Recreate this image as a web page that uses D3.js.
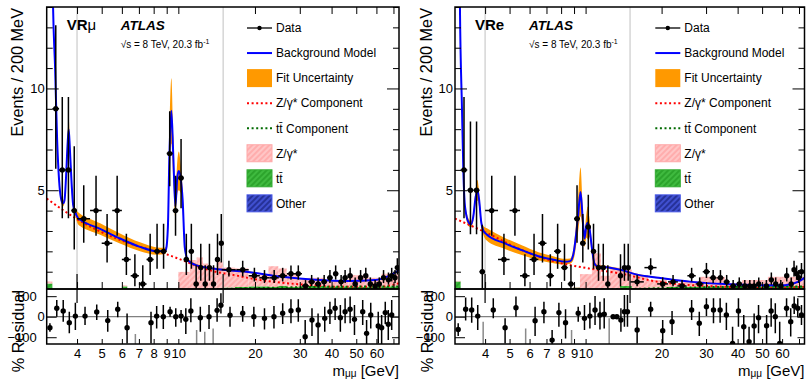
<!DOCTYPE html>
<html>
<head>
<meta charset="utf-8">
<script src="https://cdn.jsdelivr.net/npm/d3@7"></script>
<style>
  body { margin: 0; background: #fff; }
  svg text { font-family: "Liberation Sans", Arial, Helvetica, sans-serif; }
</style>
</head>
<body>
<svg id="chart" width="809" height="379"></svg>
<script>
// ---------------- axes / labels ----------------
const xDomain = [3.04, 73.6];
const yDomain = [0.15, 14];
const resDomain = [-133, 135];
const xTicks = [4, 5, 6, 7, 8, 9, 10, 20, 30, 40, 50, 60, 70];
const xTickLabels = [4, 5, 6, 7, 8, 9, 10, 20, 30, 40, 50, 60];
const yMinorTicks = [1, 2, 3, 4, 6, 7, 8, 9, 11, 12, 13, 14];
const yMajorTicks = [5, 10];
const resTicks = [100, 0, -100];
const resTickLabels = ["100", "0", "\u2212100"];
const signalEdges = [4, 15];
const legendLabels = ["Data", "Background Model", "Fit Uncertainty", "Z/\u03b3* Component",
                      "tt\u0304 Component", "Z/\u03b3*", "tt\u0304", "Other"];

// ---------------- VR mu ----------------
const muDataX = [3.3, 3.5, 3.7, 3.9,
  4.25, 4.75, 5.25, 5.75, 6.25, 6.75, 7.25, 7.75, 8.25, 8.75, 9.25, 9.75, 10.25, 10.75, 11.25, 11.75, 12.25, 12.75, 13.25, 13.75, 14.25, 14.75,
  15.8, 17.9, 19.9, 21.8, 23.8, 25.7, 27.7, 29.6, 31.6, 33.4, 35.4, 37.4, 39.4, 41.5, 43.6, 45.2, 47.3, 49.5, 52, 54.5, 56.8, 59.3, 61.6, 64, 66.9, 68.9, 71, 72.5];
const muDataY = [9, 6, 6, 4,
  3.6, 4.0, 2.4, 4.0, 1.6, 0.8, 0.4, 1.6, 2.0, 2.0, 6.8, 4.0, 5.6, 1.6, 2.0, 0.4, 1.2, 0.4, 1.2, 0.4, 1.6, 2.4,
  1.1, 1.1, 0.8, 0.7, 0.7, 0.8, 0.9, 0.9, 0.3, 0.5, 0.4, 0.5, 0.7, 0.9, 0.5, 0.7, 0.8, 0.4, 0.7, 0.8, 0.4, 0.3, 0.4, 0.7, 0.6, 0.8, 0.7, 1.2];
const muDataLo = [6.06, 3.62, 3.62, 2.09,
  2.42, 2.76, 1.45, 2.76, 0.84, 0.28, 0.07, 0.84, 1.14, 1.14, 5.2, 2.76, 4.12, 0.84, 1.14, 0.07, 0.55, 0.07, 0.55, 0.07, 0.84, 1.45,
  0.77, 0.77, 0.52, 0.44, 0.44, 0.52, 0.61, 0.61, 0.14, 0.28, 0.21, 0.28, 0.44, 0.61, 0.28, 0.44, 0.52, 0.21, 0.44, 0.52, 0.21, 0.14, 0.21, 0.44, 0.36, 0.52, 0.44, 0.86];
const muDataHi = [13.1, 9.58, 9.58, 7.16,
  5.24, 5.71, 3.83, 5.71, 2.86, 1.86, 1.32, 2.86, 3.35, 3.35, 8.88, 5.71, 7.52, 2.86, 3.35, 1.32, 2.37, 1.32, 2.37, 1.32, 2.86, 3.83,
  1.54, 1.54, 1.19, 1.08, 1.08, 1.19, 1.31, 1.31, 0.59, 0.84, 0.72, 0.84, 1.08, 1.31, 0.84, 1.08, 1.19, 0.72, 1.08, 1.19, 0.72, 0.59, 0.72, 1.08, 0.96, 1.19, 1.08, 1.66];
const muDataW = [0.1, 0.1, 0.1, 0.1,
  0.25, 0.25, 0.25, 0.25, 0.25, 0.25, 0.25, 0.25, 0.25, 0.25, 0.25, 0.25, 0.25, 0.25, 0.25, 0.25, 0.25, 0.25, 0.25, 0.25, 0.25, 0.25,
  1, 1, 1, 1, 1, 1, 1, 1, 1, 1, 1, 1, 1, 1, 1, 1, 1, 1, 1, 1, 1, 1, 1, 1, 1, 1, 1, 1];

const muModelX = [3.17, 3.22, 3.28, 3.34, 3.40, 3.46, 3.52, 3.57, 3.62, 3.67, 3.71, 3.75, 3.81, 3.86, 3.93, 4.04, 4.11, 4.93, 5.9, 7.07, 8.22, 8.87,
  8.95, 9.1, 9.22, 9.39, 9.56, 9.73, 9.91, 10.04, 10.22, 10.4, 10.6, 10.9, 11.73, 13.65, 15.4, 18.8, 25.5, 34.5, 46.6, 59.3, 66.9, 73.6];
const muModelY = [20, 14, 11, 7.5, 5.5, 4.6, 4.35, 4.5, 5.6, 7.2, 8.0, 7.0, 5.3, 4.3, 3.95, 3.62, 3.55, 3.1, 2.63, 2.22, 2.01, 2.02,
  2.1, 3.2, 6.6, 8.9, 6.6, 4.2, 5.65, 5.95, 5.57, 4.5, 2.2, 1.57, 1.32, 1.16, 1.08, 0.98, 0.75, 0.6, 0.54, 0.59, 0.78, 1.08];
const muBandHW = [0.4, 0.3, 0.3, 0.25, 0.2, 0.15, 0.15, 0.15, 0.3, 0.45, 0.55, 0.45, 0.3, 0.2, 0.2, 0.3, 0.3, 0.28, 0.25, 0.22, 0.18, 0.15,
  0.14, 0.5, 1.0, 1.6, 1.0, 0.5, 0.8, 0.95, 0.7, 0.5, 0.2, 0.1, 0.07, 0.05, 0.05, 0.04, 0.03, 0.03, 0.03, 0.03, 0.04, 0.05];
const muZX = [3.04, 4.3, 5.5, 7.46, 9.0, 10.7, 12.2, 14.0, 16.0, 20.9, 30, 43.1, 62, 73.6];
const muZY = [4.59, 3.35, 2.71, 2.14, 1.85, 1.5, 1.22, 1.0, 0.87, 0.59, 0.38, 0.26, 0.26, 0.43];
const muTTX = [3.04, 8, 15, 25, 40, 60, 73.6];
const muTTY = [0.0, 0.05, 0.15, 0.22, 0.26, 0.27, 0.27];

const muHistEdges = [3.04, 3.2, 6.0, 6.3, 6.6, 10.0, 11.1, 11.8, 12.5, 13.1, 14.15, 14.95, 16.7, 18.85, 22.6, 24.7, 26.65, 29.6, 32.4, 37.6, 46.6, 55.8, 62.9, 73.6];
const muHistTT = [0.42, 0, 0.28, 0, 0, 0.1, 0.1, 0.12, 0.15, 0.15, 0.2, 0.22, 0.25, 0.28, 0.25, 0.3, 0.25, 0.28, 0.3, 0.28, 0.25, 0.3, 0.28];
const muHistZ = [0.10, 0, 0.05, 0, 0, 0.89, 1.47, 1.58, 1.25, 1.01, 1.29, 0.98, 0.91, 0.55, 1.02, 0.86, 0.67, 0.31, 0.4, 0.31, 0.58, 0.4, 0.62];

const muResX = [3.13, 3.33, 3.53, 3.73, 3.94, 4.3, 4.78, 5.28, 5.78, 6.29, 6.78, 7.29, 7.81, 8.22, 8.73, 9.28, 9.77, 10.25, 10.7, 11.2, 11.8, 12.2, 12.7, 13.2, 13.7, 14.2, 14.7,
  15.96, 17.9, 19.8, 21.8, 23.75, 25.7, 27.7, 29.6, 31.5, 33.5, 35.4, 37.6, 39.4, 41.3, 43.3, 45.2, 47.3, 49.2, 53, 54.9, 57, 61, 62.9, 65, 66.8, 68.9];
const muRes = [-54, 41, 28, -29, 3, 3, 23, -19, 36, -54, -250, -400, -29, 3, 0, 24, 0, 3, -13, 28, -300, -5, -300, 0, -300, 31, 56,
  7, 17, 0, -8, 0, 17, 29, 33, -98, -16, -40, -8, 24, 41, -5, 24, 36, -13, 24, -81, 8, -45, -54, 20, -37, 8];
const muResHi = [-32, 81, 81, 24, 68, 49, 60, 33, 73, 16, -84, -150, 24, 52, 57, 49, 41, 33, 41, 90, -65, 49, -73, 57, -57, 90, 114,
  49, 52, 49, 41, 52, 65, 85, 85, -16, 41, 16, 49, 73, 90, 57, 90, 98, 57, 81, -16, 68, 24, 8, 73, 33, 81];
const muResLo = [-73, 0, -24, -81, -65, -40, -16, -73, -3, -130, -500, -600, -130, -57, -60, 0, -49, -29, -84, -27, -500, -73, -500, -60, -500, -24, 16,
  -49, -24, -49, -62, -57, -36, -32, -24, -200, -94, -200, -73, -36, -16, -73, -32, -32, -89, -40, -200, -57, -130, -200, -36, -114, -65];

// ---------------- VR e ----------------
const elDataX = [3.3, 3.5, 3.7, 3.9,
  4.25, 4.75, 5.25, 5.75, 6.25, 6.75, 7.25, 7.75, 8.25, 8.75, 9.25, 9.75, 10.25, 10.75, 11.25, 11.75, 12.25, 13.75, 14.25, 14.75,
  16, 18.1, 20.2, 22.2, 24.1, 26.3, 28.3, 30.1, 32, 34.2, 36.2, 38.4, 40.6, 42.7, 44.7, 46.5, 48.5, 52, 54.4, 56.6, 59.3, 62.6, 65.2, 66.9, 68.5, 69.9, 71.6];
const elDataY = [6, 5, 5, 1,
  4.0, 1.6, 4.0, 0.8, 1.6, 2.4, 0.8, 2.0, 1.2, 0.4, 3.6, 2.4, 3.2, 2.0, 1.2, 1.2, 0.4, 0.8, 1.2, 1.2,
  0.5, 1.2, 0.4, 0.5, 0.3, 0.8, 0.4, 1.0, 0.7, 0.7, 0.5, 0.3, 0.4, 0.3, 0.3, 0.3, 0.4, 0.3, 0.6, 0.4, 0.3, 0.8, 0.4, 1.1, 0.9, 0.7, 1.0];
const elDataLo = [3.62, 2.84, 2.84, 0.17,
  2.76, 0.84, 2.76, 0.28, 0.84, 1.45, 0.28, 1.14, 0.55, 0.07, 2.42, 1.45, 2.09, 1.14, 0.55, 0.55, 0.07, 0.28, 0.55, 0.55,
  0.28, 0.86, 0.21, 0.28, 0.14, 0.52, 0.21, 0.69, 0.44, 0.44, 0.28, 0.14, 0.21, 0.14, 0.14, 0.14, 0.21, 0.14, 0.36, 0.21, 0.14, 0.52, 0.21, 0.77, 0.61, 0.44, 0.69];
const elDataHi = [9.58, 8.38, 8.38, 3.30,
  5.71, 2.86, 5.71, 1.86, 2.86, 3.83, 1.86, 3.35, 2.37, 1.32, 5.24, 3.83, 4.78, 3.35, 2.37, 2.37, 1.32, 1.86, 2.37, 2.37,
  0.84, 1.66, 0.72, 0.84, 0.59, 1.19, 0.72, 1.43, 1.08, 1.08, 0.84, 0.59, 0.72, 0.59, 0.59, 0.59, 0.72, 0.59, 0.96, 0.72, 0.59, 1.19, 0.72, 1.54, 1.31, 1.08, 1.43];
const elDataW = [0.1, 0.1, 0.1, 0.1,
  0.25, 0.25, 0.25, 0.25, 0.25, 0.25, 0.25, 0.25, 0.25, 0.25, 0.25, 0.25, 0.25, 0.25, 0.25, 0.25, 0.25, 0.25, 0.25, 0.25,
  1, 1, 1, 1, 1, 1, 1, 1, 1, 1, 1, 1, 1, 1, 1, 1, 1, 1, 1, 1, 1, 1, 1, 1, 1, 1, 1];

const elModelX = [3.15, 3.18, 3.24, 3.28, 3.33, 3.45, 3.52, 3.59, 3.67, 3.73, 3.79, 3.86, 3.93, 4.05, 4.79, 5.59, 6.51, 7.56, 8.29, 8.69,
  8.96, 9.33, 9.55, 9.73, 9.9, 10.08, 10.2, 10.34, 10.58, 10.84, 11.1, 12.35, 13.9, 15.7, 19.45, 26.35, 35.7, 48.3, 61.5, 69.3, 73.6];
const elModelY = [20, 14, 9, 6, 4.2, 3.4, 3.33, 3.69, 4.67, 5.0, 4.5, 3.45, 3.04, 2.84, 2.39, 2.06, 1.76, 1.57, 1.49, 1.52,
  1.9, 3.69, 4.92, 3.69, 2.63, 3.28, 3.4, 3.2, 2.22, 1.4, 1.27, 1.21, 1.08, 0.88, 0.7, 0.5, 0.39, 0.34, 0.34, 0.5, 0.7];
const elBandHW = [0.4, 0.3, 0.3, 0.25, 0.2, 0.18, 0.15, 0.2, 0.35, 0.5, 0.35, 0.2, 0.2, 0.3, 0.27, 0.24, 0.2, 0.17, 0.14, 0.13,
  0.3, 0.8, 1.2, 0.6, 0.4, 0.6, 0.8, 0.5, 0.3, 0.12, 0.08, 0.06, 0.05, 0.04, 0.03, 0.03, 0.03, 0.03, 0.03, 0.04, 0.05];
const elZX = [3.04, 4.1, 5.59, 7.56, 10.3, 13.9, 19.45, 26.35, 35.7, 48.3, 61.5, 73.6];
const elZY = [3.61, 2.88, 2.06, 1.49, 1.16, 0.9, 0.5, 0.34, 0.26, 0.21, 0.21, 0.26];
const elTTX = [3.04, 8, 15, 25, 40, 60, 73.6];
const elTTY = [0.0, 0.05, 0.15, 0.22, 0.26, 0.27, 0.27];

const elHistEdges = [3.04, 3.2, 8.9, 9.5, 10.59, 11.5, 12.48, 13.67, 15.25, 17.64, 20.98, 23.8, 28.3, 35.6, 41.6, 52.7, 59.8, 73.6];
const elHistTT = [0.52, 0, 0.22, 0.1, 0.12, 0.15, 0.15, 0.3, 0.2, 0.22, 0.25, 0.25, 0.28, 0.3, 0.28, 0.3, 0.3];
const elHistZ = [0.03, 0, 0.03, 0.78, 1.78, 0.65, 1.05, 0.8, 0.63, 0.37, 0.18, 0.25, 0.47, 0.13, 0.31, 0.45, 0.45];

const elResX = [3.13, 3.35, 3.54, 3.74, 3.93, 4.31, 4.8, 5.3, 5.79, 6.31, 6.84, 7.37, 7.84, 8.33, 8.8, 9.35, 9.9, 10.4, 10.9, 11.4, 11.85, 12.4, 12.85, 13.3, 13.8, 14.25, 14.65,
  16.0, 18.1, 20.2, 22.0, 26.3, 28.2, 30.1, 32.1, 34.1, 36.1, 38.2, 40.3, 42.3, 44.4, 46.5, 48.4, 52.1, 54.3, 56.4, 58.7, 62.5, 64.9, 67, 69.2, 71.6];
const elRes = [-62, 36, 33, 3, -300, 33, -54, 44, -300, -20, 24, -114, 20, -29, -300, 17, -8, 3, 33, 8, 12, -300, 0, 0, -16, 24, 24,
  -65, 36, -68, -24, 33, -32, 49, 33, 33, 8, -130, 28, -49, -122, -45, -5, -44, 28, 0, -130, 41, -24, 52, 41, 8];
const elResHi = [-32, 94, 94, 57, -24, 90, -8, 98, -57, 49, 73, -65, 68, 36, -65, 49, 57, 68, 101, 73, 90, -8, 0, 0, 41, 106, 106,
  0, 73, -16, 28, 81, 24, 90, 90, 90, 68, -49, 90, 8, -49, 16, 57, 8, 90, 65, -24, 90, 41, 98, 90, 57];
const elResLo = [-94, -19, -29, -65, -600, -8, -130, 0, -600, -94, -32, -200, -49, -106, -600, -24, -65, -57, -40, -62, -57, -600, 0, 0, -73, -49, -49,
  -130, 0, -200, -89, -16, -94, 3, -32, -29, -65, -200, -49, -200, -200, -200, -81, -200, -49, -81, -200, 0, -97, 13, -3, -40];

// ---------------- layout ----------------
const Y_TOP = 7, Y_MID = 289, Y_BOT = 344;
const panels = [
  { tag: "VR", tagSub: "\u03bc", x0: 46.7, x1: 399,
    dataX: muDataX, dataY: muDataY, dataLo: muDataLo, dataHi: muDataHi, dataW: muDataW,
    modelX: muModelX, modelY: muModelY, bandHW: muBandHW, zX: muZX, zY: muZY, ttX: muTTX, ttY: muTTY,
    histEdges: muHistEdges, histTT: muHistTT, histZ: muHistZ,
    resX: muResX, res: muRes, resHi: muResHi, resLo: muResLo },
  { tag: "VRe", tagSub: "", x0: 455, x1: 804.5,
    dataX: elDataX, dataY: elDataY, dataLo: elDataLo, dataHi: elDataHi, dataW: elDataW,
    modelX: elModelX, modelY: elModelY, bandHW: elBandHW, zX: elZX, zY: elZY, ttX: elTTX, ttY: elTTY,
    histEdges: elHistEdges, histTT: elHistTT, histZ: elHistZ,
    resX: elResX, res: elRes, resHi: elResHi, resLo: elResLo }
];

const svg = d3.select("#chart");
const defs = svg.append("defs");

function hatch(id, bg, fg) {
  const p = defs.append("pattern").attr("id", id)
    .attr("patternUnits", "userSpaceOnUse").attr("width", 4).attr("height", 4)
    .attr("patternTransform", "rotate(45)");
  p.append("rect").attr("width", 4).attr("height", 4).attr("fill", bg);
  p.append("line").attr("x1", 1).attr("y1", 0).attr("x2", 1).attr("y2", 4)
    .attr("stroke", fg).attr("stroke-width", 1.4);
}
hatch("hZ", "#ffc6c6", "#ffa3a3");
hatch("hT", "#3fba3f", "#249a24");
hatch("hO", "#4050d0", "#1a2480");

const ORANGE = "#ff9900", BLUE = "#0000ff", RED = "#ff0000", DKGREEN = "#006a00";

panels.forEach((p, idx) => {
  const x = d3.scaleLog().domain(xDomain).range([p.x0, p.x1]);
  const y = d3.scaleLinear().domain(yDomain).range([Y_MID, Y_TOP]);
  const r = d3.scaleLinear().domain(resDomain).range([Y_BOT, Y_MID]);
  const W = p.x1 - p.x0;

  defs.append("clipPath").attr("id", "cm" + idx).append("rect")
    .attr("x", p.x0).attr("y", Y_TOP).attr("width", W).attr("height", Y_MID - Y_TOP);
  defs.append("clipPath").attr("id", "cr" + idx).append("rect")
    .attr("x", p.x0).attr("y", Y_MID).attr("width", W).attr("height", Y_BOT - Y_MID);

  const g = svg.append("g");
  const m = g.append("g").attr("clip-path", `url(#cm${idx})`);

  // boundary lines of the validation regions
  m.selectAll("line.edge").data(signalEdges).join("line").attr("class", "edge")
    .attr("x1", d => x(d)).attr("x2", d => x(d)).attr("y1", Y_TOP).attr("y2", Y_MID)
    .attr("stroke", "#cfcfcf").attr("stroke-width", 1.3);

  // stacked histograms: ttbar then Z/gamma*
  const bins = d3.range(p.histEdges.length - 1).map(i => ({
    lo: p.histEdges[i], hi: p.histEdges[i + 1], t: p.histTT[i], z: p.histZ[i] }));
  m.selectAll("rect.tt").data(bins).join("rect").attr("class", "tt")
    .attr("x", d => x(d.lo)).attr("width", d => x(d.hi) - x(d.lo))
    .attr("y", d => y(d.t)).attr("height", d => Math.max(0, y(0) - y(d.t)))
    .attr("fill", "url(#hT)");
  m.selectAll("rect.zg").data(bins).join("rect").attr("class", "zg")
    .attr("x", d => x(d.lo)).attr("width", d => x(d.hi) - x(d.lo))
    .attr("y", d => y(d.t + d.z)).attr("height", d => Math.max(0, y(d.t) - y(d.t + d.z)))
    .attr("fill", "url(#hZ)");

  // fit uncertainty band + model
  const model = p.modelX.map((v, i) => ({ x: v, y: p.modelY[i], h: p.bandHW[i] }));
  m.append("path").datum(model)
    .attr("d", d3.area().x(d => x(d.x)).y0(d => y(d.y - d.h)).y1(d => y(d.y + d.h)).curve(d3.curveMonotoneX))
    .attr("fill", ORANGE);
  const zc = p.zX.map((v, i) => ({ x: v, y: p.zY[i] }));
  m.append("path").datum(zc)
    .attr("d", d3.line().x(d => x(d.x)).y(d => y(d.y)).curve(d3.curveMonotoneX))
    .attr("fill", "none").attr("stroke", RED).attr("stroke-width", 2).attr("stroke-dasharray", "2,2.6");
  const tc = p.ttX.map((v, i) => ({ x: v, y: p.ttY[i] }));
  m.append("path").datum(tc)
    .attr("d", d3.line().x(d => x(d.x)).y(d => y(d.y)).curve(d3.curveMonotoneX))
    .attr("fill", "none").attr("stroke", DKGREEN).attr("stroke-width", 2).attr("stroke-dasharray", "2,2.6");
  m.append("path").datum(model)
    .attr("d", d3.line().x(d => x(d.x)).y(d => y(d.y)).curve(d3.curveMonotoneX))
    .attr("fill", "none").attr("stroke", BLUE).attr("stroke-width", 2);

  // data
  const pts = p.dataX.map((v, i) => ({ x: v, y: p.dataY[i], lo: p.dataLo[i], hi: p.dataHi[i], w: p.dataW[i] }));
  const dp = m.append("g").attr("stroke", "#000").attr("stroke-width", 1.5);
  dp.selectAll("line.ev").data(pts).join("line").attr("class", "ev")
    .attr("x1", d => x(d.x)).attr("x2", d => x(d.x)).attr("y1", d => y(d.lo)).attr("y2", d => y(d.hi));
  dp.selectAll("line.eh").data(pts).join("line").attr("class", "eh")
    .attr("x1", d => x(d.x - d.w)).attr("x2", d => x(d.x + d.w)).attr("y1", d => y(d.y)).attr("y2", d => y(d.y));
  m.selectAll("circle.pt").data(pts).join("circle").attr("class", "pt")
    .attr("cx", d => x(d.x)).attr("cy", d => y(d.y)).attr("r", 2.7).attr("fill", "#000");

  // residual panel
  const rg = g.append("g").attr("clip-path", `url(#cr${idx})`);
  rg.append("line").attr("x1", p.x0).attr("x2", p.x1).attr("y1", r(0)).attr("y2", r(0))
    .attr("stroke", "#808080").attr("stroke-width", 1.2);
  const rp = p.resX.map((v, i) => ({ x: v, y: p.res[i], hi: p.resHi[i], lo: p.resLo[i] }));
  const inR = d => d.y >= resDomain[0] && d.y <= resDomain[1];
  rg.selectAll("line.rv").data(rp).join("line").attr("class", "rv")
    .attr("x1", d => x(d.x)).attr("x2", d => x(d.x)).attr("y1", d => r(d.lo)).attr("y2", d => r(d.hi))
    .attr("stroke", d => inR(d) ? "#000" : "#8a8a8a").attr("stroke-width", 1.5);
  rg.selectAll("circle.rpt").data(rp.filter(inR)).join("circle").attr("class", "rpt")
    .attr("cx", d => x(d.x)).attr("cy", d => r(d.y)).attr("r", 2.7).attr("fill", "#000");

  // dark segments across the pad boundary at the region edges
  g.selectAll("line.seg").data(signalEdges).join("line").attr("class", "seg")
    .attr("x1", d => x(d)).attr("x2", d => x(d)).attr("y1", Y_MID - 15).attr("y2", Y_MID + 14)
    .attr("stroke", "#222").attr("stroke-width", 1.4);

  // frames
  g.append("rect").attr("x", p.x0).attr("y", Y_TOP).attr("width", W).attr("height", Y_MID - Y_TOP)
    .attr("fill", "none").attr("stroke", "#000").attr("stroke-width", 1.5);
  g.append("rect").attr("x", p.x0).attr("y", Y_MID).attr("width", W).attr("height", Y_BOT - Y_MID)
    .attr("fill", "none").attr("stroke", "#000").attr("stroke-width", 1.5);

  // axes
  const style = sel => {
    sel.select(".domain").remove();
    sel.selectAll(".tick line").attr("stroke", "#000").attr("stroke-width", 1);
    sel.attr("font-size", 13).attr("font-family", "'Liberation Sans', Arial, sans-serif");
    sel.selectAll("text").attr("fill", "#000");
  };
  g.append("g").attr("transform", `translate(0,${Y_MID})`)
    .call(d3.axisBottom(x).tickValues(xTicks).tickSize(-7).tickFormat("")).call(style);
  g.append("g").attr("transform", `translate(0,${Y_TOP})`)
    .call(d3.axisTop(x).tickValues(xTicks).tickSize(-7).tickFormat("")).call(style);
  g.append("g").attr("transform", `translate(0,${Y_BOT})`)
    .call(d3.axisBottom(x).tickValues(xTicks).tickSize(-5).tickPadding(5)
      .tickFormat(d => xTickLabels.includes(d) ? d : "")).call(style);

  g.append("g").attr("transform", `translate(${p.x0},0)`)
    .call(d3.axisLeft(y).tickValues(yMinorTicks).tickSize(-6).tickFormat("")).call(style);
  g.append("g").attr("transform", `translate(${p.x0},0)`)
    .call(d3.axisLeft(y).tickValues(yMajorTicks).tickSize(-12).tickPadding(2)).call(style);
  g.append("g").attr("transform", `translate(${p.x1},0)`)
    .call(d3.axisRight(y).tickValues(yMinorTicks).tickSize(-6).tickFormat("")).call(style);
  g.append("g").attr("transform", `translate(${p.x1},0)`)
    .call(d3.axisRight(y).tickValues(yMajorTicks).tickSize(-12).tickFormat("")).call(style);

  g.append("g").attr("transform", `translate(${p.x0},0)`)
    .call(d3.axisLeft(r).tickValues(resTicks).tickSize(-10).tickPadding(2)
      .tickFormat((d, i) => resTickLabels[i])).call(style)
    .call(sel => sel.selectAll(".tick text").attr("x", d => d === 0 ? -2 : -10));
  g.append("g").attr("transform", `translate(${p.x1},0)`)
    .call(d3.axisRight(r).tickValues(resTicks).tickSize(-7).tickFormat("")).call(style);

  // titles
  g.append("text").attr("transform", `translate(${p.x0 - 23.5},${Y_TOP + 1}) rotate(-90)`)
    .attr("text-anchor", "end").attr("font-size", 16.3).text("Events / 200 MeV");
  g.append("text").attr("transform", `translate(${p.x0 - 22.5},${Y_MID + 1}) rotate(-90)`)
    .attr("text-anchor", "end").attr("font-size", 16.3).text("% Residual");
  const xt = g.append("text").attr("x", p.x1).attr("y", 375.5).attr("text-anchor", "end").attr("font-size", 15);
  xt.append("tspan").text("m");
  xt.append("tspan").attr("font-size", 10).attr("dy", 1.5).text("\u03bc\u03bc");
  xt.append("tspan").attr("dy", -1.5).text(" [GeV]");

  const tag = g.append("text").attr("x", p.x0 + 20).attr("y", 30).attr("font-size", 15);
  tag.append("tspan").attr("font-weight", "bold").text(p.tag);
  if (p.tagSub) tag.append("tspan").text(p.tagSub);
  g.append("text").attr("x", p.x0 + 74).attr("y", 30).attr("font-size", 13.5)
    .attr("font-weight", "bold").attr("font-style", "italic").text("ATLAS");
  const en = g.append("text").attr("x", p.x0 + 74).attr("y", 47.5).attr("font-size", 10);
  en.append("tspan").text("\u221as = 8 TeV, 20.3 fb");
  en.append("tspan").attr("font-size", 7).attr("dy", -4).text("-1");

  // legend
  const lx = p.x0 + 200.3;
  const lg = g.append("g");
  legendLabels.forEach((lab, i) => {
    const cy = 28 + 25.05 * i;
    const it = lg.append("g");
    if (i === 0) {
      it.append("line").attr("x1", lx).attr("x2", lx + 25).attr("y1", cy).attr("y2", cy).attr("stroke", "#000").attr("stroke-width", 1.3);
      it.append("circle").attr("cx", lx + 12.5).attr("cy", cy).attr("r", 2.2).attr("fill", "#000");
    } else if (i === 1) {
      it.append("line").attr("x1", lx).attr("x2", lx + 25).attr("y1", cy).attr("y2", cy).attr("stroke", BLUE).attr("stroke-width", 2);
    } else if (i === 2) {
      it.append("rect").attr("x", lx).attr("y", cy - 9).attr("width", 25).attr("height", 18).attr("fill", ORANGE);
    } else if (i === 3 || i === 4) {
      it.append("line").attr("x1", lx).attr("x2", lx + 25).attr("y1", cy).attr("y2", cy)
        .attr("stroke", i === 3 ? RED : DKGREEN).attr("stroke-width", 2).attr("stroke-dasharray", "2,2.6");
    } else {
      const fills = ["url(#hZ)", "url(#hT)", "url(#hO)"], strokes = ["#ffa8a8", "#33aa33", "#4a5ae8"];
      it.append("rect").attr("x", lx).attr("y", cy - 8.5).attr("width", 25).attr("height", 17)
        .attr("fill", fills[i - 5]).attr("stroke", strokes[i - 5]).attr("stroke-width", 1);
    }
    it.append("text").attr("x", lx + 29).attr("y", cy + 4.3).attr("font-size", 12).text(lab);
  });
});
</script>
</body>
</html>
